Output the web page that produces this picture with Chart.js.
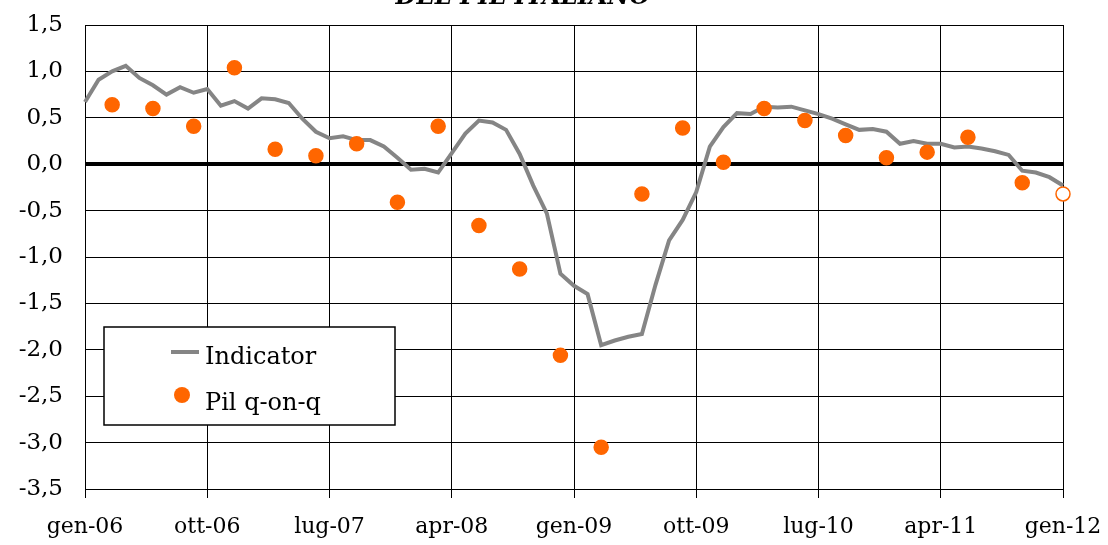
<!DOCTYPE html>
<html>
<head>
<meta charset="utf-8">
<script src="https://cdn.jsdelivr.net/npm/chart.js@4/dist/chart.umd.min.js"></script>
<style>
  html, body { margin: 0; padding: 0; background: #fff; overflow: hidden; }
</style>
</head>
<body>
<canvas id="c" width="1108" height="545"></canvas>
<script>
const MESI = ["gen", "feb", "mar", "apr", "mag", "giu", "lug", "ago", "set", "ott", "nov", "dic"];
const ANNI = ["06", "07", "08", "09", "10", "11", "12"];

// monthly categories gen-06 .. gen-12
const months = [];
ANNI.forEach(a => MESI.forEach(m => months.push(m + "-" + a)));
months.length = 73;

const indicator = [
    0.67, 0.91, 1.00, 1.06, 0.93, 0.85, 0.75, 0.83, 0.77, 0.81, 0.63, 0.68,
    0.60, 0.71, 0.70, 0.66, 0.49, 0.35, 0.28, 0.30, 0.26, 0.26, 0.19, 0.07,
    -0.06, -0.05, -0.09, 0.12, 0.33, 0.47, 0.45, 0.37, 0.11, -0.23, -0.53, -1.18,
    -1.31, -1.40, -1.95, -1.90, -1.86, -1.83, -1.30, -0.82, -0.60, -0.30, 0.19, 0.40,
    0.55, 0.54, 0.62, 0.61, 0.62, 0.58, 0.54, 0.49, 0.43, 0.37, 0.38, 0.35,
    0.22, 0.25, 0.22, 0.22, 0.18, 0.19, 0.17, 0.14, 0.10, -0.07, -0.09, -0.14,
    -0.23,
];

const pilMonths = [
    "mar-06", "giu-06", "set-06", "dic-06", "mar-07", "giu-07", "set-07", "dic-07",
    "mar-08", "giu-08", "set-08", "dic-08", "mar-09", "giu-09", "set-09", "dic-09",
    "mar-10", "giu-10", "set-10", "dic-10", "mar-11", "giu-11", "ott-11", "gen-12",
];
const pilValues = [
    0.64, 0.60, 0.41, 1.04, 0.16, 0.09, 0.22, -0.41,
    0.41, -0.66, -1.13, -2.06, -3.05, -0.32, 0.39, 0.02,
    0.60, 0.47, 0.31, 0.07, 0.13, 0.29, -0.20, -0.32,
];

const yTicks = [1.5, 1.0, 0.5, 0.0, -0.5, -1.0, -1.5, -2.0, -2.5, -3.0, -3.5];

const GREY = "#858585";
const ORANGE = "#FF6600";
const FONT = "DejaVu Serif";

const titlePlugin = {
    id: "cutTitle",
    afterDraw(chart) {
        const ctx = chart.ctx;
        ctx.save();
        ctx.fillStyle = "#000";
        ctx.font = "italic bold 24px " + FONT;
        ctx.textAlign = "center";
        ctx.textBaseline = "alphabetic";
        ctx.fillText("DEL PIL ITALIANO", 523, 4);
        ctx.restore();
    }
};

const boxLegend = {
    id: "boxLegend",
    afterDraw(chart) {
        const ctx = chart.ctx;
        const ds = chart.data.datasets;
        ctx.save();
        ctx.fillStyle = "#fff";
        ctx.fillRect(104, 327, 291, 98);
        ctx.strokeStyle = "#000";
        ctx.lineWidth = 1.5;
        ctx.strokeRect(104, 327, 291, 98);

        ctx.strokeStyle = ds[0].borderColor;
        ctx.lineWidth = 4;
        ctx.beginPath();
        ctx.moveTo(171, 352);
        ctx.lineTo(199, 352);
        ctx.stroke();

        ctx.fillStyle = ORANGE;
        ctx.beginPath();
        ctx.arc(182, 395, 8, 0, Math.PI * 2);
        ctx.fill();

        ctx.fillStyle = "#000";
        ctx.font = "24px " + FONT;
        ctx.textBaseline = "alphabetic";
        ctx.fillText(ds[0].label, 205, 364);
        ctx.fillText(ds[1].label, 205, 410);
        ctx.restore();
    }
};

new Chart(document.getElementById("c"), {
    type: "line",
    data: {
        labels: months,
        datasets: [
            {
                label: "Indicator",
                data: indicator,
                borderColor: GREY,
                borderWidth: 4,
                pointRadius: 0,
                tension: 0,
                order: 2,
            },
            {
                label: "Pil q-on-q",
                data: pilMonths.map((m, i) => ({ x: m, y: pilValues[i] })),
                showLine: false,
                pointRadius: 7,
                pointBorderWidth: 1.5,
                pointBackgroundColor: c => c.dataIndex === pilValues.length - 1 ? "#fff" : ORANGE,
                pointBorderColor: ORANGE,
                order: 1,
            },
        ],
    },
    options: {
        responsive: false,
        animation: false,
        devicePixelRatio: 1,
        layout: { padding: { top: 25, right: 45, left: 0, bottom: 0 } },
        plugins: {
            legend: { display: false },
            tooltip: { enabled: false },
        },
        scales: {
            x: {
                type: "category",
                offset: false,
                afterFit: s => { s.height = 56; s.paddingLeft = 0; s.paddingRight = 0; },
                border: { display: true, color: "#000", width: 1 },
                grid: { color: "#000", lineWidth: 1, tickLength: 9, drawOnChartArea: true },
                ticks: {
                    autoSkip: false,
                    maxRotation: 0,
                    color: "#000",
                    font: { family: FONT, size: 22 },
                    padding: 16,
                    callback: (v, i) => i % 9 === 0 ? months[i] : null,
                },
            },
            y: {
                min: -3.5,
                max: 1.5,
                afterFit: s => { s.width = 85; s.paddingTop = 0; s.paddingBottom = 0; },
                afterBuildTicks: s => { s.ticks = yTicks.map(v => ({ value: v })); },
                border: { display: true, color: "#000", width: 1 },
                grid: {
                    color: "#000",
                    lineWidth: c => c.tick && c.tick.value === 0 ? 4 : 1,
                    drawTicks: false,
                },
                ticks: {
                    color: "#000",
                    padding: 22,
                    font: { family: FONT, size: 23 },
                    callback: v => v.toFixed(1).replace(".", ","),
                },
            },
        },
    },
    plugins: [titlePlugin, boxLegend],
});
</script>
</body>
</html>
